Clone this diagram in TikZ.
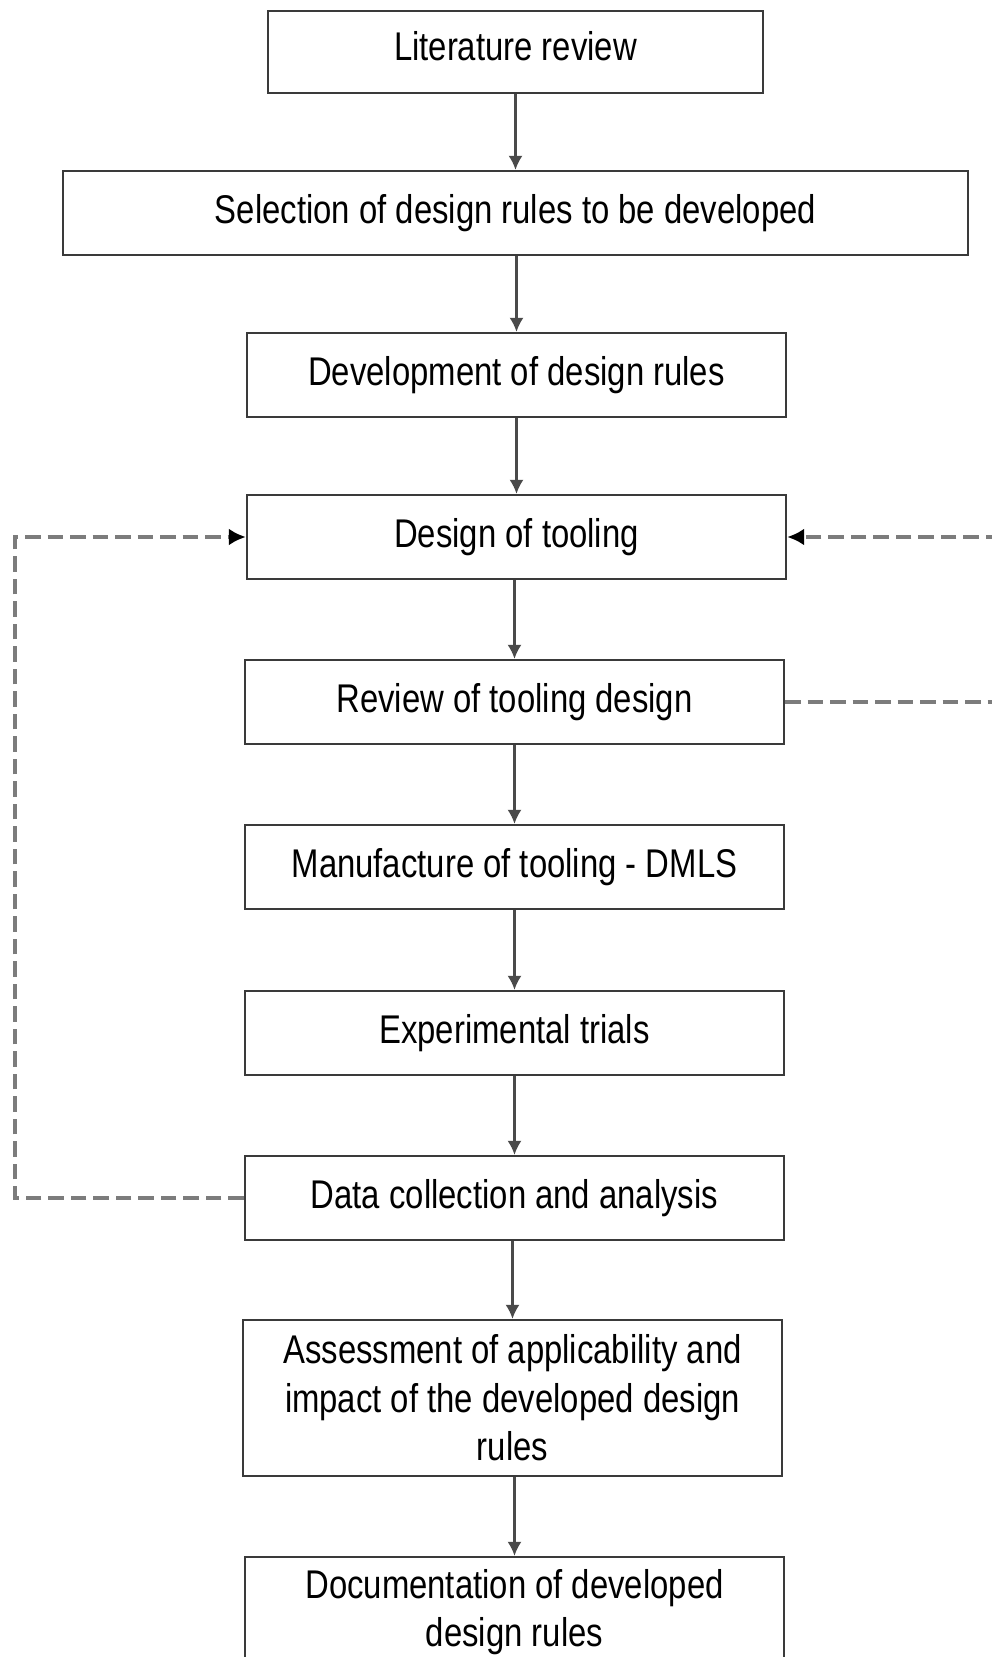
\documentclass[tikz,border=0pt]{standalone}
\usepackage{fontspec}
\setmainfont[FakeStretch=0.82]{Liberation Sans}
\usetikzlibrary{arrows.meta}
\definecolor{boxline}{HTML}{3A3A3A}
\definecolor{flowline}{HTML}{4A4A4A}
\definecolor{loopline}{HTML}{7C7C7C}

\begin{document}
\begin{tikzpicture}
	 [x=0.025cm,y=-0.025cm,
	  every node/.style={draw=boxline,line width=1.6pt,rectangle,inner sep=0pt,align=center,
	    minimum width=13.475cm,minimum height=2.1cm,font=\fontsize{28.5}{34.6}\selectfont},
	  flow/.style={draw=flowline,line width=1.5pt,-{Latex[length=10pt,width=10pt]}},
	  loop/.style={draw=loopline,line width=2.5pt,dash pattern=on 11pt off 5pt,
	    -{Latex[length=12pt,width=12pt,fill=black,color=black]}}]
	\useasboundingbox (0,0) rectangle (992,1657);

	  \node (lit)[minimum width=12.375cm,minimum height=2.05cm,text depth=8pt] at (515.5,52) {Literature review};
	  \node (sel)[minimum width=22.625cm] at (515.5,213) {Selection of design rules to be developed};
	  \node (dev) at (516.5,375) {Development of design rules};
	  \node (des) at (516.5,537) {Design of tooling};
	  \node (rev) at (514.5,702) {Review of tooling design};
	  \node (man) at (514.5,867) {Manufacture of tooling - DMLS};
	  \node (exp) at (514.5,1033) {Experimental trials};
	  \node (dat) at (514.5,1198) {Data collection and analysis};
	  \node (ass)[minimum height=3.9cm] at (512.5,1398) {Assessment of applicability and\\impact of the developed design\\rules};
	  \node (doc)[minimum height=2.75cm] at (514.5,1612) {Documentation of developed\\design rules};

	\foreach \from/\to in {lit/sel,sel/dev,dev/des,des/rev,rev/man,man/exp,exp/dat,dat/ass,ass/doc}
    \path[flow] (\to.north) ++(0,-1) coordinate (tip) (\from.south -| tip) -- (\to.north);

%	feedback loops
	\coordinate (lb) at (15,1198);
	\coordinate (lt) at (15,537);
	\coordinate (rb) at (1002,702);
	\coordinate (rt) at (1002,537);

	\draw[loop] (dat.west) -- (lb) -- (lt) -- (des.west);
	\draw[loop] (rev.east) -- (rb) -- (rt) -- (des.east);

\end{tikzpicture}
\end{document}
